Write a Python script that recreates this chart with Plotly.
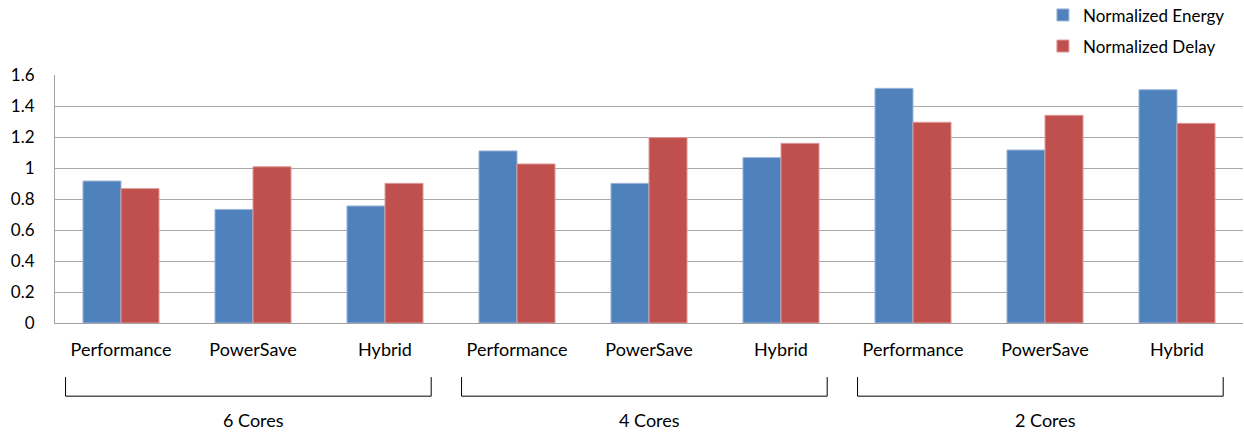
import plotly.graph_objects as go

# Scheduling policies per core count
policies = ["Performance", "PowerSave", "Hybrid"]
core_groups = ["6 Cores", "4 Cores", "2 Cores"]
tick_labels = policies * len(core_groups)

# Normalized results, ordered 6 / 4 / 2 cores, each Performance / PowerSave / Hybrid
energy = [0.916, 0.733, 0.755, 1.110, 0.901, 1.067, 1.514, 1.116, 1.505]
delay = [0.867, 1.008, 0.901, 1.026, 1.196, 1.159, 1.295, 1.340, 1.288]

y_ticks = [0, 0.2, 0.4, 0.6, 0.8, 1, 1.2, 1.4, 1.6]

FONT = "Lato"
x_pos = list(range(len(tick_labels)))

fig = go.Figure()
fig.add_trace(go.Bar(
    x=x_pos, y=energy, name="Normalized Energy", legendgroup="e",
    marker=dict(color="#4F81BD", line=dict(color="#9DB5DA", width=1)),
))
fig.add_trace(go.Bar(
    x=x_pos, y=delay, name="Normalized Delay", legendgroup="d",
    marker=dict(color="#C0504D", line=dict(color="#DD9A98", width=1)),
))

# Brackets and captions under each core-count group
shapes = []
annotations = []
for g, label in enumerate(core_groups):
    x0 = g * 3 - 0.42
    x1 = g * 3 + 2.35
    y_top, y_bot = -0.218, -0.295
    shapes.append(dict(
        type="path", xref="x", yref="paper",
        path=f"M {x0},{y_top} L {x0},{y_bot} L {x1},{y_bot} L {x1},{y_top}",
        line=dict(color="#000000", width=1),
    ))
    annotations.append(dict(
        x=g * 3 + 1, y=-0.391, xref="x", yref="paper", text=label,
        showarrow=False, xanchor="center", yanchor="middle",
        font=dict(family=FONT, size=18, color="#000000"),
    ))

fig.update_layout(
    width=1244, height=433,
    margin=dict(l=55, r=1, t=75, b=110, autoexpand=False),
    paper_bgcolor="white", plot_bgcolor="white",
    barmode="group", bargap=0.424, bargroupgap=0,
    font=dict(family=FONT, color="#000000"),
    shapes=shapes, annotations=annotations,
    legend=dict(
        x=0.989, y=1.313, xanchor="right", yanchor="top", yref="paper",
        font=dict(family=FONT, size=17, color="#000000"),
        traceorder="grouped", tracegroupgap=6,
        bgcolor="rgba(0,0,0,0)",
    ),
    showlegend=True,
)

fig.update_xaxes(
    range=[-0.5, len(tick_labels) - 0.5],
    tickmode="array", tickvals=x_pos, ticktext=tick_labels,
    tickfont=dict(family=FONT, size=18, color="#000000"),
    showgrid=False, showline=True, linecolor="#A0A0A0", linewidth=1,
    ticks="", ticklabelstandoff=10,
)
fig.update_yaxes(
    range=[0, 1.6], tickmode="array", tickvals=y_ticks,
    ticktext=[f"{v:g}" for v in y_ticks],
    tickfont=dict(family=FONT, size=17, color="#000000"),
    showgrid=True, gridcolor="#A8A8A8", gridwidth=1,
    showline=True, linecolor="#A0A0A0", linewidth=1,
    zeroline=False, ticks="", ticklabelstandoff=16,
)

fig.write_html("out.html")
